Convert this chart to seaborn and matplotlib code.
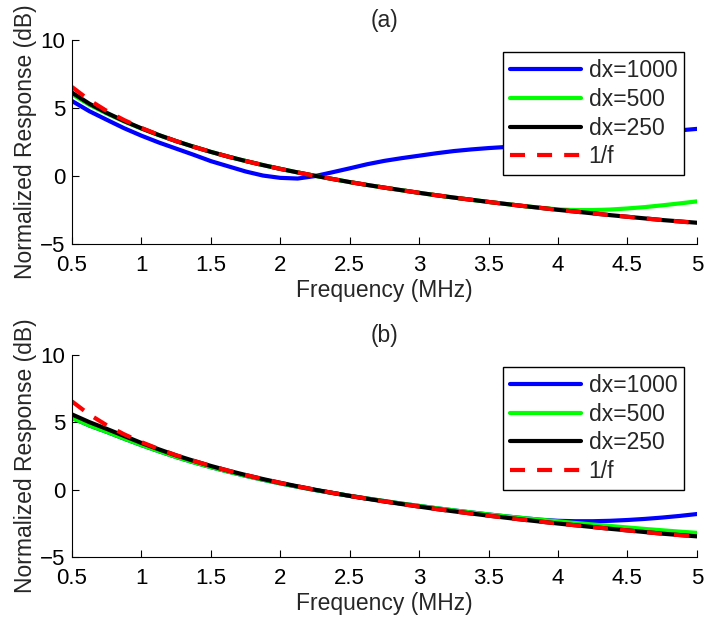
import matplotlib
matplotlib.use("Agg")
import matplotlib.pyplot as plt
import seaborn as sns

# frequency grid (MHz)
freq = [0.5, 0.625, 0.75, 0.875, 1.0, 1.125, 1.25, 1.375, 1.5, 1.625,
        1.75, 1.875, 2.0, 2.125, 2.25, 2.375, 2.5, 2.625, 2.75, 2.875,
        3.0, 3.125, 3.25, 3.375, 3.5, 3.625, 3.75, 3.875, 4.0, 4.125,
        4.25, 4.375, 4.5, 4.625, 4.75, 4.875, 5.0]

# 1/f reference (dB), same in both panels
inv_f = [6.53, 5.56, 4.77, 4.10, 3.52, 3.01, 2.55, 2.14, 1.76, 1.41,
         1.09, 0.79, 0.51, 0.25, 0.00, -0.23, -0.46, -0.67, -0.87, -1.06,
         -1.25, -1.43, -1.60, -1.76, -1.92, -2.07, -2.22, -2.36, -2.50, -2.63,
         -2.76, -2.89, -3.01, -3.13, -3.25, -3.36, -3.47]

# panel (a)
a_dx1000 = [5.5, 4.75, 4.12, 3.5, 2.95, 2.45, 2.0, 1.55, 1.08, 0.7,
            0.32, 0.02, -0.15, -0.2, -0.02, 0.26, 0.55, 0.85, 1.1, 1.3,
            1.48, 1.66, 1.82, 1.94, 2.04, 2.12, 2.22, 2.34, 2.47, 2.6,
            2.73, 2.86, 2.98, 3.1, 3.22, 3.34, 3.45]
a_dx500 = [6.0, 5.22, 4.58, 4.0, 3.47, 2.99, 2.55, 2.14, 1.76, 1.41,
           1.09, 0.79, 0.51, 0.25, 0.00, -0.23, -0.46, -0.67, -0.87, -1.06,
           -1.25, -1.43, -1.60, -1.76, -1.92, -2.07, -2.22, -2.35, -2.47, -2.52,
           -2.52, -2.48, -2.40, -2.30, -2.17, -2.03, -1.88]
a_dx250 = [6.12, 5.3, 4.63, 4.03, 3.49, 3.0, 2.55, 2.14, 1.76, 1.41,
           1.09, 0.79, 0.51, 0.25, 0.00, -0.23, -0.46, -0.67, -0.87, -1.06,
           -1.25, -1.43, -1.60, -1.76, -1.92, -2.07, -2.22, -2.36, -2.50, -2.63,
           -2.76, -2.89, -3.01, -3.13, -3.25, -3.35, -3.45]

# panel (b)
b_dx1000 = [5.32, 4.75, 4.28, 3.78, 3.3, 2.85, 2.42, 2.03, 1.67, 1.34,
            1.03, 0.74, 0.47, 0.22, -0.02, -0.24, -0.45, -0.65, -0.84, -1.03,
            -1.2, -1.37, -1.53, -1.68, -1.83, -1.97, -2.1, -2.22, -2.3, -2.33,
            -2.33, -2.3, -2.24, -2.16, -2.06, -1.94, -1.8]
b_dx500 = [5.32, 4.75, 4.28, 3.78, 3.3, 2.85, 2.42, 2.03, 1.67, 1.34,
           1.03, 0.74, 0.47, 0.22, -0.02, -0.24, -0.45, -0.65, -0.84, -1.03,
           -1.2, -1.37, -1.53, -1.68, -1.83, -1.97, -2.1, -2.22, -2.34, -2.46,
           -2.57, -2.68, -2.79, -2.9, -3.0, -3.1, -3.19]
b_dx250 = [5.57, 5.0, 4.5, 3.98, 3.46, 2.99, 2.54, 2.14, 1.76, 1.41,
           1.09, 0.79, 0.51, 0.25, 0.00, -0.23, -0.46, -0.67, -0.87, -1.06,
           -1.25, -1.43, -1.60, -1.76, -1.92, -2.07, -2.22, -2.36, -2.50, -2.63,
           -2.76, -2.89, -3.01, -3.13, -3.25, -3.35, -3.45]

labels = ["dx=1000", "dx=500", "dx=250", "1/f"]
colors = ["#0000ff", "#00ff00", "#000000", "#ff0000"]
xticks = [0.5, 1, 1.5, 2, 2.5, 3, 3.5, 4, 4.5, 5]
xticklabels = ["0.5", "1", "1.5", "2", "2.5", "3", "3.5", "4", "4.5", "5"]

sns.set_theme(style="ticks")
plt.rcParams["font.family"] = ["Liberation Sans", "DejaVu Sans"]
plt.rcParams["xtick.direction"] = "in"
plt.rcParams["ytick.direction"] = "in"

fig, axes = plt.subplots(2, 1, figsize=(7.06, 6.22), dpi=100)
axes[0].set_position([0.102, 0.608, 0.885, 0.328])
axes[1].set_position([0.102, 0.104, 0.885, 0.326])

panels = [("(a)", [a_dx1000, a_dx500, a_dx250, inv_f]),
          ("(b)", [b_dx1000, b_dx500, b_dx250, inv_f])]

for ax, (title, series) in zip(axes, panels):
    for vals, lab, col in zip(series, labels, colors):
        if lab == "1/f":
            sns.lineplot(x=freq, y=vals, ax=ax, color=col, lw=3,
                         linestyle=(0, (3.6, 2.9)), label=lab)
        else:
            sns.lineplot(x=freq, y=vals, ax=ax, color=col, lw=3, label=lab)
    ax.set_xlim(0.5, 5)
    ax.set_ylim(-5, 10)
    ax.set_xticks(xticks)
    ax.set_xticklabels(xticklabels)
    ax.set_yticks([-5, 0, 5, 10])
    ax.tick_params(labelsize=16, length=5, width=0.8, colors="black")
    ax.tick_params(axis="x", pad=8)
    ax.tick_params(axis="y", pad=5)
    ax.set_xlabel("Frequency (MHz)", fontsize=16.5, labelpad=2)
    ax.set_ylabel("Normalized Response (dB)", fontsize=16.5, labelpad=2)
    ax.set_title(title, fontsize=16.5, pad=9)
    sns.despine(ax=ax)
    for sp in ax.spines.values():
        sp.set_linewidth(0.8)
        sp.set_color("black")
    leg = ax.legend(loc="upper right", fontsize=16.5, frameon=True, fancybox=False,
                    edgecolor="black", framealpha=1, handlelength=3.1,
                    handletextpad=0.35, labelspacing=0.25, borderpad=0.3,
                    borderaxespad=0.55)
    leg.get_frame().set_linewidth(1.0)

fig.savefig("out.png", dpi=100)
